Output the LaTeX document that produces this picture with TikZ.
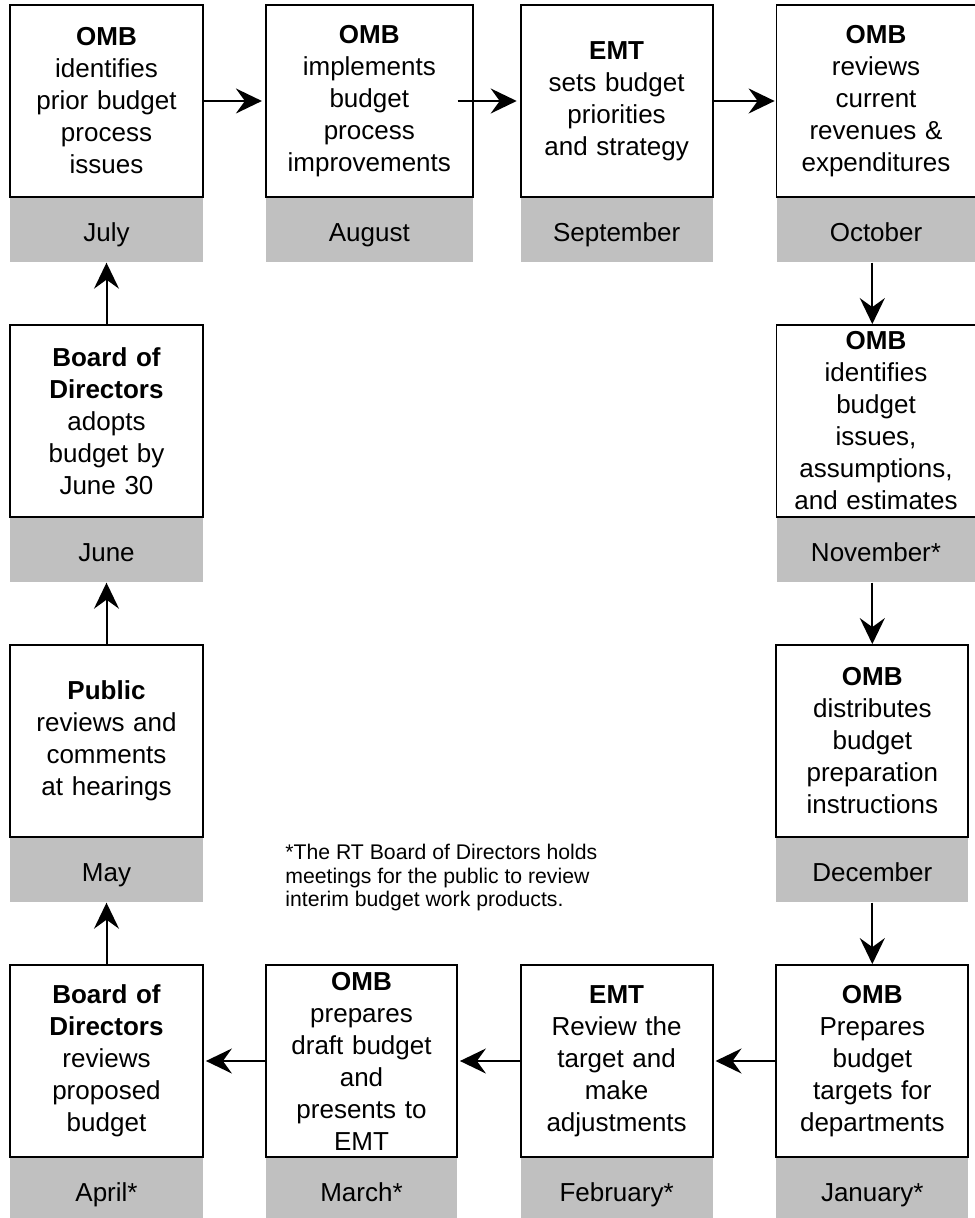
\documentclass[tikz,border=0pt]{standalone}
\usepackage{fontspec}
\setmainfont{Liberation Sans}
\usetikzlibrary{positioning,arrows.meta}

\definecolor{monthgray}{RGB}{192,192,192}

\tikzset{
  stepbox/.style={draw, line width=0.9pt, align=center, inner sep=0pt,
    text width=#1, minimum width=#1, minimum height=96pt,
    font=\fontsize{13}{16}\selectfont},
  stepbox/.default=96.5pt,
  monthbox/.style={fill=monthgray, inner sep=0pt, minimum width=#1,
    minimum height=32pt, text height=12pt, text depth=1pt,
    font=\fontsize{13}{16}\selectfont},
  monthbox/.default=96.5pt,
  flow/.style={-{Stealth[length=13pt,width=12.5pt,inset=4.5pt]}, line width=1pt},
  note/.style={align=left, inner sep=0pt, font=\fontsize{10.6}{11.7}\selectfont}
}

\begin{document}
\begin{tikzpicture}[x=0.5pt, y=-0.5pt]
  \useasboundingbox (0,0) rectangle (974,1218);

  % top row
  \node[stepbox] (jul) at (106.5,101) {\textbf{OMB}\\identifies\\prior budget\\process\\issues};
  \node[stepbox=103.5pt] (aug) at (369.3,101) {\textbf{OMB}\\implements\\budget\\process\\improvements};
  \node[stepbox=96pt] (sep) at (616.6,101) {\textbf{EMT}\\sets budget\\priorities\\and strategy};
  \node[stepbox=99.5pt] (oct) at (876,101) {\textbf{OMB}\\reviews\\current\\revenues \&\\expenditures};

  % sides
  \node[stepbox] (jun) at (106.5,421) {\textbf{Board of}\\\textbf{Directors}\\adopts\\budget by\\June 30};
  \node[stepbox=99.5pt] (nov) at (876,421) {\textbf{OMB}\\identifies\\budget\\issues,\\assumptions,\\and estimates};
  \node[stepbox] (may) at (106.5,741) {\textbf{Public}\\reviews and\\comments\\at hearings};
  \node[stepbox=96pt] (dec) at (872.3,741) {\textbf{OMB}\\distributes\\budget\\preparation\\instructions};

  % bottom row
  \node[stepbox] (apr) at (106.5,1061) {\textbf{Board of}\\\textbf{Directors}\\reviews\\proposed\\budget};
  \node[stepbox=95.5pt] (mar) at (361.5,1061) {\textbf{OMB}\\prepares\\draft budget\\and\\presents to\\EMT};
  \node[stepbox=96pt] (feb) at (616.6,1061) {\textbf{EMT}\\Review the\\target and\\make\\adjustments};
  \node[stepbox=96pt] (jan) at (872.3,1061) {\textbf{OMB}\\Prepares\\budget\\targets for\\departments};

  % months
  \node[monthbox, below=0pt of jul] (julm) {July};
  \node[monthbox=103.5pt, below=0pt of aug] (augm) {August};
  \node[monthbox=96pt, below=0pt of sep] (sepm) {September};
  \node[monthbox=99.5pt, below=0pt of oct] (octm) {October};
  \node[monthbox, below=0pt of jun] (junm) {June};
  \node[monthbox=99.5pt, below=0pt of nov] (novm) {November*};
  \node[monthbox, below=0pt of may] (maym) {May};
  \node[monthbox=96pt, below=0pt of dec] (decm) {December};
  \node[monthbox, below=0pt of apr] (aprm) {April*};
  \node[monthbox=95.5pt, below=0pt of mar] (marm) {March*};
  \node[monthbox=96pt, below=0pt of feb] (febm) {February*};
  \node[monthbox=96pt, below=0pt of jan] (janm) {January*};

  \node[note, anchor=north west] (footnote) at (285,844)
    {*The RT Board of Directors holds\\meetings for the public to review\\interim budget work products.};

  % arrows
  \draw[flow, shorten >=1.5pt] (jul) -- (aug);
  \draw[flow, shorten >=1.5pt] ([xshift=-8pt]aug.east) -- (sep);
  \draw[flow, shorten >=0.5pt] (sep) -- (oct);
  \draw[flow] (octm.south -| dec) -- (nov.north -| dec);
  \draw[flow] (novm.south -| dec) -- (dec);
  \draw[flow] (decm) -- (jan);
  \draw[flow, shorten >=1pt] (jan) -- (feb);
  \draw[flow, shorten >=1pt] (feb) -- (mar);
  \draw[flow, shorten >=1pt] (mar) -- (apr);
  \draw[flow] (apr) -- (maym);
  \draw[flow] (may) -- (junm);
  \draw[flow] (jun) -- (julm);
\end{tikzpicture}
\end{document}
